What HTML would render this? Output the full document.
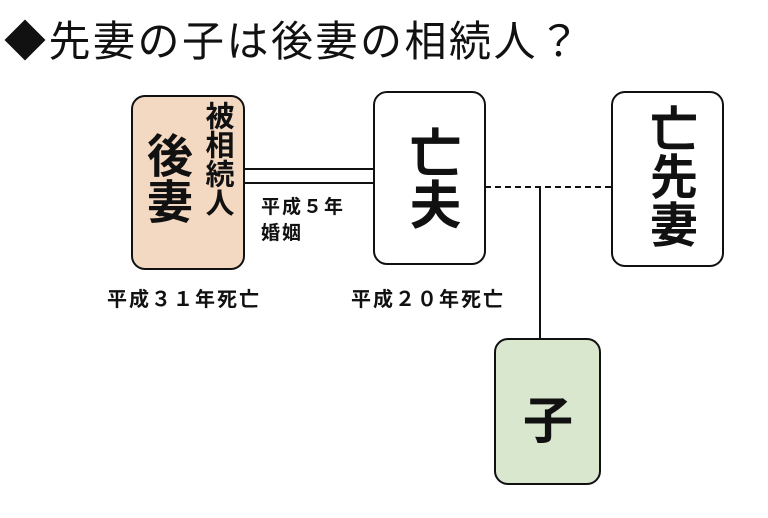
<!DOCTYPE html>
<html><head><meta charset="utf-8"><style>
body{margin:0;width:768px;height:518px;background:#fff;position:relative;overflow:hidden;font-family:"Liberation Sans","Noto Sans CJK JP",sans-serif;}
.a{position:absolute;}
.box{position:absolute;border:2px solid #111;border-radius:14px;box-sizing:border-box;}
.t{position:absolute;font-weight:bold;color:#111;white-space:nowrap;}
.v{writing-mode:vertical-rl;}
</style></head><body>
<div class="t" style="left:4px;top:8px;font-size:42px;font-weight:normal;letter-spacing:2.5px">◆先妻の子は後妻の相続人？</div>
<div class="a" style="left:244px;top:168px;width:130px;height:2px;background:#111"></div>
<div class="a" style="left:244px;top:182px;width:130px;height:2px;background:#111"></div>
<div class="a" style="left:485px;top:186px;width:126px;border-top:2px dashed #111"></div>
<div class="a" style="left:539px;top:187px;width:2px;height:152px;background:#111"></div>
<div class="box" style="left:131px;top:95px;width:114px;height:175px;background:#f4d9c2"></div>
<div class="t v" style="left:141px;top:132px;font-size:46px;line-height:52px">後妻</div>
<div class="t v" style="left:199px;top:101px;font-size:29px;line-height:36px">被相続人</div>
<div class="box" style="left:373px;top:91px;width:113px;height:174px;background:#fff"></div>
<div class="t v" style="left:401px;top:126px;font-size:52px;line-height:58px">亡夫</div>
<div class="box" style="left:611px;top:91px;width:113px;height:176px;background:#fff"></div>
<div class="t v" style="left:642px;top:104px;font-size:48px;line-height:52px">亡先妻</div>
<div class="box" style="left:494px;top:338px;width:107px;height:147px;background:#d9e7cf"></div>
<div class="t" style="left:523px;top:381px;font-size:50px">子</div>
<div class="t" style="left:261px;top:195px;font-size:19px;line-height:26px;letter-spacing:2px">平成５年<br>婚姻</div>
<div class="t" style="left:107px;top:283px;font-size:20px;letter-spacing:2px">平成３１年死亡</div>
<div class="t" style="left:351px;top:283px;font-size:20px;letter-spacing:2px">平成２０年死亡</div>
</body></html>
